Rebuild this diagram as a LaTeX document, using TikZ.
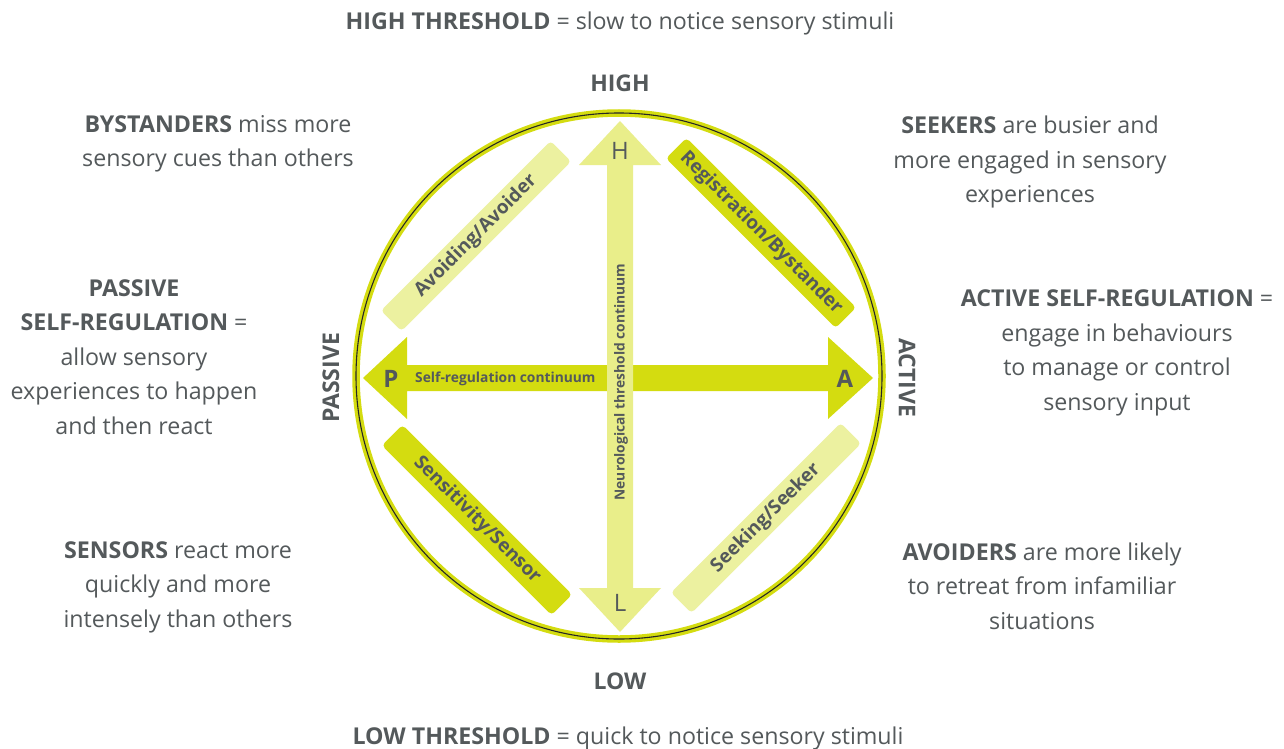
\documentclass[tikz,border=0pt]{standalone}
\usepackage{fontspec}
\setmainfont{Open Sans}
\definecolor{dkgreen}{HTML}{D4DC10}
\definecolor{ltgreen}{HTML}{E9EE8A}
\definecolor{ltbox}{HTML}{ECF1A0}
\definecolor{txt}{HTML}{54595B}
\begin{document}
\begin{tikzpicture}[x=1pt,y=-1pt,
  desc/.style={text=txt,font=\fontsize{23.2}{34.5}\selectfont,align=center,inner sep=0pt},
  axislabel/.style={text=txt,font=\fontsize{23}{26}\selectfont\bfseries,inner sep=0pt},
  diagbox/.style={rectangle,rounded corners=4pt,minimum width=240pt,minimum height=29pt,inner sep=0pt,text=txt,font=\fontsize{19}{22}\selectfont\bfseries},
  letter/.style={text=txt,font=\fontsize{24}{28}\selectfont,inner sep=0pt},
  smalltxt/.style={text=txt,font=\fontsize{13.8}{16}\selectfont\bfseries,inner sep=0pt}]
\useasboundingbox (0,0) rectangle (1284,749);
\fill[white] (0,0) rectangle (1284,749);
% circle
\coordinate (c) at (619,376);
\draw[dkgreen,line width=7.5pt] (c) circle[radius=263];
\draw[black!85,line width=1.1pt] (c) circle[radius=263];
% horizontal arrow (dark)
\fill[dkgreen] (363,378) -- (407,337) -- (407,365) -- (828,365) -- (828,337) -- (873,378) -- (828,419) -- (828,391) -- (407,391) -- (407,419) -- cycle;
% vertical arrow (light)
\fill[ltgreen] (620,121) -- (661,165) -- (633,165) -- (633,588) -- (661,588) -- (620,632) -- (579,588) -- (607,588) -- (607,165) -- (579,165) -- cycle;
% letters
\node[letter] (h) at (620,151) {H};
\node[letter] (l) at (620,603) {L};
\node[letter,font=\fontsize{24}{28}\selectfont\bfseries] (p) at (391,379) {P};
\node[letter,font=\fontsize{24}{28}\selectfont\bfseries] (a) at (845,379) {A};
\node[smalltxt,anchor=west] (srl) at (415,379) {Self-regulation continuum};
\node[smalltxt,rotate=90] (ntc) at (621,382) {Neurological threshold continuum};
% diagonal boxes
\node[diagbox,fill=ltbox,rotate=45] (avoid) at (476,236) {Avoiding/Avoider};
\node[diagbox,fill=dkgreen,rotate=-45] (regis) at (761,233) {Registration/Bystander};
\node[diagbox,fill=dkgreen,rotate=-45] (sens) at (477,520) {Sensitivity/Sensor};
\node[diagbox,fill=ltbox,rotate=45] (seek) at (766,518) {Seeking/Seeker};
% axis labels
\node[axislabel] (high) at (620,83) {HIGH};
\node[axislabel] (low) at (620,681) {LOW};
\node[axislabel,rotate=90] (passive) at (331,378) {PASSIVE};
\node[axislabel,rotate=-90] (active) at (907,378) {ACTIVE};
% descriptions
\node[desc] (top) at (620,23) {\textbf{HIGH THRESHOLD} = slow to notice sensory stimuli};
\node[desc] (bottom) at (628,738) {\textbf{LOW THRESHOLD} = quick to notice sensory stimuli};
\node[desc] (bys) at (218,144) {\textbf{BYSTANDERS} miss more\\sensory cues than others};
\node[desc] (seekers) at (1030,162) {\textbf{SEEKERS} are busier and\\more engaged in sensory\\experiences};
\node[desc] (pass) at (134,357) {\textbf{PASSIVE}\\\textbf{SELF-REGULATION} =\\allow sensory\\experiences to happen\\and then react};
\node[desc] (act) at (1117,353) {\textbf{ACTIVE SELF-REGULATION} =\\engage in behaviours\\to manage or control\\sensory input};
\node[desc] (sensors) at (178,587) {\textbf{SENSORS} react more\\quickly and more\\intensely than others};
\node[desc] (avoiders) at (1042,586) {\textbf{AVOIDERS} are more likely\\to retreat from infamiliar\\situations};
\end{tikzpicture}
\end{document}
